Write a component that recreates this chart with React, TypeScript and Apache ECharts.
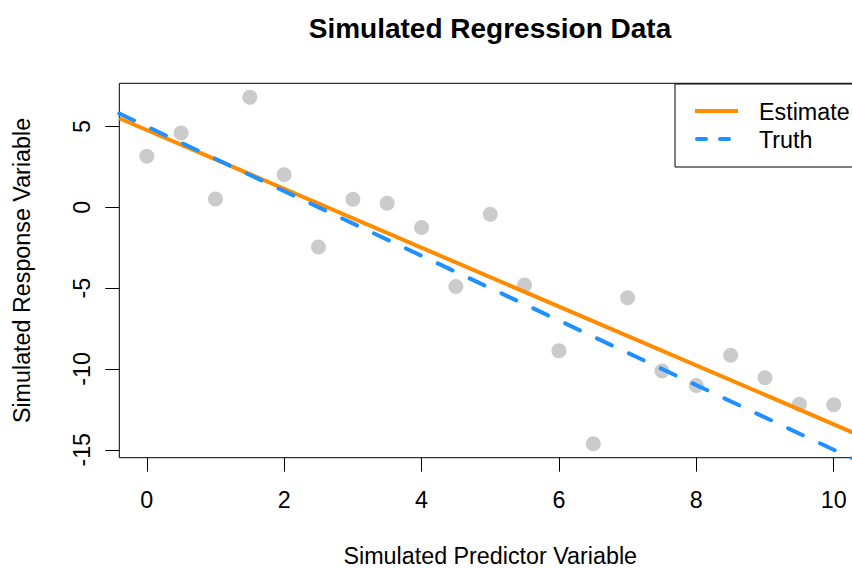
import React, { useEffect, useRef } from "react";
import * as echarts from "echarts";

// ---- data ----
const xValues = [0, 0.5, 1, 1.5, 2, 2.5, 3, 3.5, 4, 4.5, 5, 5.5, 6, 6.5, 7, 7.5, 8, 8.5, 9, 9.5, 10];
const yValues = [
  3.15, 4.59, 0.51, 6.81, 2.02, -2.45, 0.49, 0.25, -1.25, -4.9, -0.43,
  -4.81, -8.87, -14.63, -5.6, -10.12, -11.03, -9.15, -10.54, -12.18, -12.22,
];
// fitted (Estimate) and true (Truth) lines, given at the plot's x limits
const lineX = [-0.4, 10.4];
const estimateY = [5.51, -14.15];
const truthY = [5.8, -15.8];
const xTicks = [0, 2, 4, 6, 8, 10];
const yTicks = [-15, -10, -5, 0, 5];
const legendLabels = ["Estimate", "Truth"];
const titleText = "Simulated Regression Data";
const xName = "Simulated Predictor Variable";
const yName = "Simulated Response Variable";

const FONT = "'Liberation Sans', Arial, Helvetica, sans-serif";
const ORANGE = "#FF8C00";
const BLUE = "#1E90FF";
const GREY = "#BEBEBE";
const FS = 23.3;

export default function App() {
  const ref = useRef<HTMLDivElement>(null);

  useEffect(() => {
    if (!ref.current) return;
    const chart = echarts.init(ref.current, undefined, { renderer: "svg" });

    const points = xValues.map((x, i) => [x, yValues[i]]);
    const estimate = lineX.map((x, i) => [x, estimateY[i]]);
    const truth = lineX.map((x, i) => [x, truthY[i]]);

    const gridLeft = 119.3;
    const gridTop = 83.3;
    const gridW = 741.9;
    const gridH = 374.4;

    const legendX = 674.5;
    const legendY = 83.5;

    chart.setOption({
      animation: false,
      backgroundColor: "#ffffff",
      title: {
        text: titleText,
        left: 490,
        top: 14,
        textAlign: "center",
        padding: 0,
        textStyle: { fontFamily: FONT, fontSize: 28, fontWeight: "bold", color: "#000" },
      },
      grid: {
        left: gridLeft,
        top: gridTop,
        width: gridW,
        height: gridH,
        show: true,
        borderColor: "#000",
        borderWidth: 1,
        backgroundColor: "transparent",
        containLabel: false,
        outerBoundsMode: "none",
      },
      xAxis: {
        type: "value",
        min: -0.4,
        max: 10.4,
        name: xName,
        nameLocation: "middle",
        nameGap: 86.6,
        nameTextStyle: { fontFamily: FONT, fontSize: FS, color: "#000" },
        axisLine: { show: false, onZero: false },
        axisTick: {
          show: true,
          inside: false,
          length: 14,
          lineStyle: { color: "#000", width: 1 },
          customValues: xTicks,
        },
        axisLabel: {
          customValues: xTicks,
          margin: 31,
          fontFamily: FONT,
          fontSize: FS,
          color: "#000",
        },
        splitLine: { show: false },
      },
      yAxis: {
        type: "value",
        min: -15.49,
        max: 7.67,
        name: yName,
        nameLocation: "middle",
        nameGap: 85.6,
        nameTextStyle: { fontFamily: FONT, fontSize: FS, color: "#000" },
        axisLine: { show: false, onZero: false },
        axisTick: {
          show: true,
          inside: false,
          length: 14,
          lineStyle: { color: "#000", width: 1 },
          customValues: yTicks,
        },
        axisLabel: {
          customValues: yTicks,
          rotate: 90,
          margin: 26,
          fontFamily: FONT,
          fontSize: FS,
          color: "#000",
        },
        splitLine: { show: false },
      },
      series: [
        {
          type: "scatter",
          data: points,
          symbol: "circle",
          symbolSize: 15,
          itemStyle: { color: GREY },
          z: 2,
        },
        {
          name: legendLabels[0],
          type: "line",
          data: estimate,
          symbol: "none",
          clip: true,
          lineStyle: { color: ORANGE, width: 4 },
          z: 3,
        },
        {
          name: legendLabels[1],
          type: "line",
          data: truth,
          symbol: "none",
          clip: true,
          lineStyle: { color: BLUE, width: 4, type: [16.3, 18.9], cap: "round" },
          z: 4,
        },
      ],
      graphic: [
        {
          type: "rect",
          left: legendX,
          top: legendY,
          shape: { x: 0, y: 0, width: 186, height: 83 },
          style: { fill: "#fff", stroke: "#000", lineWidth: 1 },
          z: 10,
        },
        {
          type: "line",
          shape: { x1: 695, y1: 111, x2: 738, y2: 111 },
          style: { stroke: ORANGE, lineWidth: 4 },
          z: 11,
        },
        {
          type: "line",
          shape: { x1: 697, y1: 139, x2: 738, y2: 139 },
          style: { stroke: BLUE, lineWidth: 4, lineDash: [9, 14], lineCap: "round" },
          z: 11,
        },
        {
          type: "text",
          x: 759,
          y: 111.5,
          style: { text: legendLabels[0], font: `${FS}px ${FONT}`, fill: "#000", verticalAlign: "middle", align: "left" },
          z: 11,
        },
        {
          type: "text",
          x: 759,
          y: 139.5,
          style: { text: legendLabels[1], font: `${FS}px ${FONT}`, fill: "#000", verticalAlign: "middle", align: "left" },
          z: 11,
        },
      ],
    });

    return () => chart.dispose();
  }, []);

  return (
    <div
      ref={ref}
      style={{ position: "fixed", left: 0, top: 0, width: 880, height: 568, background: "#fff" }}
    />
  );
}
